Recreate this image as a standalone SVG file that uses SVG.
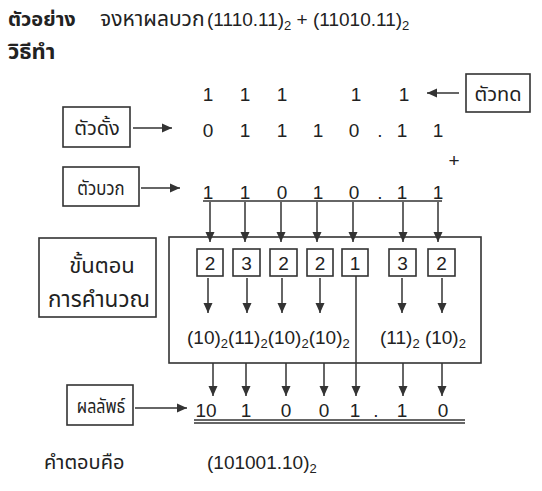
<svg xmlns="http://www.w3.org/2000/svg" width="542" height="491" viewBox="0 0 542 491">
<defs>
<marker id="ah" markerWidth="10" markerHeight="11" refX="10" refY="5" orient="auto" markerUnits="userSpaceOnUse">
<path d="M0,0.5 L10,5 L0,9.5 Z" fill="#333"/>
</marker>
<style>
.t{font-family:"Noto Sans Thai","Noto Sans","Liberation Sans",sans-serif;fill:#222}
.d{font-family:"Liberation Sans",Arial,sans-serif;font-size:19px;fill:#222}
.box{fill:none;stroke:#333;stroke-width:1.6}
.ln{stroke:#333;stroke-width:1.5;fill:none}
.ar{stroke:#333;stroke-width:1.5;fill:none;marker-end:url(#ah)}
</style>
</defs>
<rect width="542" height="491" fill="#fff"/>

<g id="title">
<text class="t" x="8" y="26" font-size="20" font-weight="bold">ตัวอย่าง</text>
<text class="t" x="100" y="26" font-size="21">จงหาผลบวก</text>
<text class="d" x="207" y="26" font-size="19.5">(1110.11)<tspan font-size="13" dy="4">2</tspan><tspan dy="-4"> + (11010.11)</tspan><tspan font-size="13" dy="4">2</tspan></text>
<text class="t" x="8" y="59" font-size="22" font-weight="bold">วิธีทำ</text>
</g>

<g id="carry-box">
<rect class="box" x="466" y="74" width="64" height="38"/>
<text class="t" x="498" y="101" font-size="20" text-anchor="middle">ตัวทด</text>
</g>
<g id="minuend-box">
<rect class="box" x="63" y="107" width="67" height="40"/>
<text class="t" x="97" y="135" font-size="20" text-anchor="middle">ตัวดั้ง</text>
</g>
<g id="addend-box">
<rect class="box" x="63" y="167" width="76" height="39"/>
<text class="t" transform="translate(101,195) scale(0.84,1)" font-size="20" text-anchor="middle">ตัวบวก</text>
</g>
<g id="steps-box">
<rect class="box" x="39" y="238" width="117" height="79"/>
<text class="t" x="102" y="273" font-size="22" text-anchor="middle">ขั้นตอน</text>
<text class="t" x="99" y="307" font-size="22.5" text-anchor="middle">การคำนวณ</text>
</g>
<g id="result-box">
<rect class="box" x="67" y="385" width="66" height="40"/>
<text class="t" transform="translate(101,413) scale(0.8,1)" font-size="20" text-anchor="middle">ผลลัพธ์</text>
</g>

<g id="numbers" class="d" text-anchor="middle">
<text y="101"><tspan x="208">1</tspan><tspan x="245">1</tspan><tspan x="282">1</tspan><tspan x="356">1</tspan><tspan x="404">1</tspan></text>
<text y="137"><tspan x="208">0</tspan><tspan x="245">1</tspan><tspan x="282">1</tspan><tspan x="318">1</tspan><tspan x="354">0</tspan><tspan x="380">.</tspan><tspan x="402">1</tspan><tspan x="438">1</tspan></text>
<text x="454" y="167">+</text>
<text y="199"><tspan x="208">1</tspan><tspan x="245">1</tspan><tspan x="282">0</tspan><tspan x="318">1</tspan><tspan x="354">0</tspan><tspan x="380">.</tspan><tspan x="402">1</tspan><tspan x="438">1</tspan></text>
<text y="417"><tspan x="206">10</tspan><tspan x="246">1</tspan><tspan x="286">0</tspan><tspan x="324">0</tspan><tspan x="355">1</tspan><tspan x="376">.</tspan><tspan x="402">1</tspan><tspan x="443">0</tspan></text>
</g>

<g id="calc-box">
<rect class="box" x="169" y="237" width="312" height="126"/>
<rect class="box" x="197" y="249" width="26" height="27"/>
<rect class="box" x="233" y="249" width="27" height="27"/>
<rect class="box" x="270" y="249" width="27" height="27"/>
<rect class="box" x="307" y="249" width="26" height="27"/>
<rect class="box" x="342" y="249" width="26" height="27"/>
<rect class="box" x="389" y="249" width="27" height="27"/>
<rect class="box" x="428" y="249" width="27" height="27"/>
<g class="d" text-anchor="middle">
<text x="210" y="269.5">2</text><text x="246.5" y="269.5">3</text><text x="283.5" y="269.5">2</text><text x="320" y="269.5">2</text><text x="355" y="269.5">1</text><text x="402.5" y="269.5">3</text><text x="441.5" y="269.5">2</text>
</g>
<text class="d" x="187" y="344">(10)<tspan font-size="13" dy="4">2</tspan><tspan dy="-4">(11)</tspan><tspan font-size="13" dy="4">2</tspan><tspan dy="-4">(10)</tspan><tspan font-size="13" dy="4">2</tspan><tspan dy="-4">(10)</tspan><tspan font-size="13" dy="4">2</tspan></text>
<text class="d" x="380" y="344">(11)<tspan font-size="13" dy="4">2</tspan><tspan dy="-4"> (10)</tspan><tspan font-size="13" dy="4">2</tspan></text>
</g>

<g id="connectors">
<line class="ar" x1="459" y1="93" x2="427" y2="93"/>
<line class="ar" x1="133" y1="128" x2="172" y2="128"/>
<line class="ar" x1="141" y1="188" x2="180" y2="188"/>
<line class="ar" x1="135" y1="408" x2="187" y2="408"/>
<line class="ln" x1="203" y1="201" x2="442" y2="201"/>
<line class="ln" x1="194" y1="420" x2="465" y2="420"/>
<line class="ln" x1="194" y1="423" x2="465" y2="423"/>
<line class="ar" x1="210" y1="202" x2="210" y2="242"/>
<line class="ar" x1="245" y1="202" x2="245" y2="242"/>
<line class="ar" x1="281" y1="202" x2="281" y2="242"/>
<line class="ar" x1="317" y1="202" x2="317" y2="242"/>
<line class="ar" x1="353" y1="202" x2="353" y2="242"/>
<line class="ar" x1="403" y1="202" x2="403" y2="242"/>
<line class="ar" x1="438" y1="202" x2="438" y2="242"/>
<line class="ar" x1="208" y1="278" x2="208" y2="313"/>
<line class="ar" x1="247" y1="278" x2="247" y2="313"/>
<line class="ar" x1="282" y1="278" x2="282" y2="313"/>
<line class="ar" x1="320" y1="278" x2="320" y2="313"/>
<line class="ar" x1="402" y1="278" x2="402" y2="313"/>
<line class="ar" x1="442" y1="278" x2="442" y2="313"/>
<line class="ar" x1="356" y1="276" x2="356" y2="396"/>
<line class="ar" x1="213" y1="363" x2="213" y2="396"/>
<line class="ar" x1="246" y1="363" x2="246" y2="396"/>
<line class="ar" x1="286" y1="363" x2="286" y2="396"/>
<line class="ar" x1="324" y1="363" x2="324" y2="396"/>
<line class="ar" x1="403" y1="363" x2="403" y2="396"/>
<line class="ar" x1="442" y1="363" x2="442" y2="396"/>
</g>

<g id="answer">
<text class="t" x="44" y="469" font-size="20">คำตอบคือ</text>
<text class="d" x="207" y="469">(101001.10)<tspan font-size="13" dy="4">2</tspan></text>
</g>
</svg>
